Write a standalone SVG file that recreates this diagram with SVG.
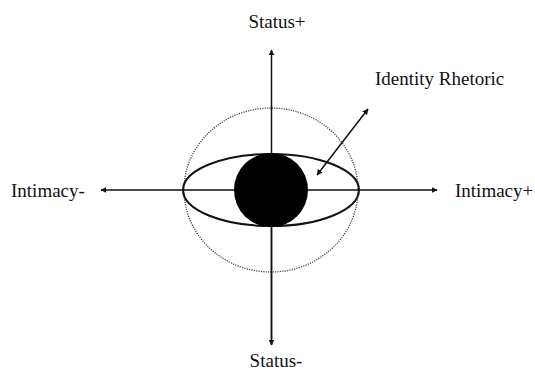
<svg xmlns="http://www.w3.org/2000/svg" width="535" height="371" viewBox="0 0 535 371">
<style>
text{font-family:"Liberation Serif","Times New Roman",serif;font-size:19px;fill:#111}
.ax{stroke:#111;stroke-width:1.5;fill:none}
</style>
<defs>
<marker id="ah" viewBox="0 0 10 10" refX="9" refY="5" markerWidth="6" markerHeight="6" markerUnits="userSpaceOnUse" orient="auto-start-reverse">
<path d="M0,0 L10,5 L0,10 z" fill="#111"/>
</marker>
</defs>
<g id="halo"><ellipse cx="271" cy="190" rx="87" ry="82" fill="none" stroke="#444" stroke-width="1.3" stroke-dasharray="1.2 1.2"/></g>
<g id="connectors">
<line class="ax" x1="271.5" y1="345" x2="271.5" y2="50" marker-end="url(#ah)"/>
<line class="ax" x1="271.5" y1="190" x2="271.5" y2="345" marker-end="url(#ah)"/>
<line class="ax" x1="271" y1="190" x2="437" y2="190" marker-end="url(#ah)"/>
<line class="ax" x1="271" y1="190" x2="101" y2="190" marker-end="url(#ah)"/>
<line class="ax" x1="317" y1="175" x2="368" y2="109" marker-start="url(#ah)" marker-end="url(#ah)"/>
</g>
<g id="ellipse"><ellipse cx="271" cy="190" rx="88" ry="36" fill="none" stroke="#111" stroke-width="2"/></g>
<g id="core"><circle cx="271" cy="190" r="37" fill="#000"/></g>
<g id="labels">
<text x="277" y="28" text-anchor="middle">Status+</text>
<text x="276" y="367" text-anchor="middle">Status-</text>
<text x="11" y="197">Intimacy-</text>
<text x="455" y="197">Intimacy+</text>
<text x="375" y="85">Identity Rhetoric</text>
</g>
</svg>
